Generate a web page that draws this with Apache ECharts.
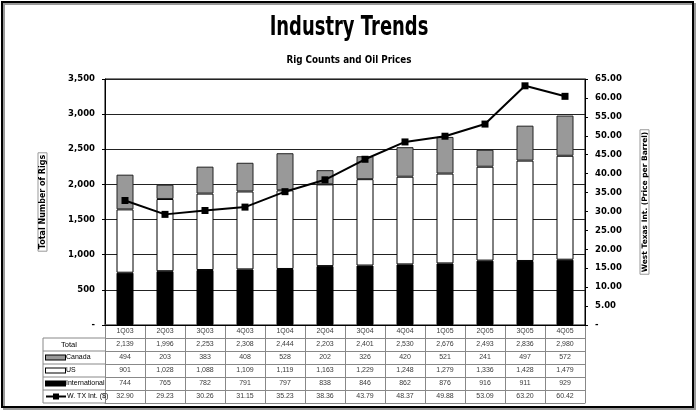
<!DOCTYPE html>
<html>
<head>
<meta charset="utf-8">
<script src="https://cdn.jsdelivr.net/npm/echarts@6/dist/echarts.min.js"></script>
<style>
html,body{margin:0;padding:0;background:#fff;}
#chart{width:697px;height:411px;}
</style>
</head>
<body>
<div id="chart"></div>
<script>
var categories = ['1Q03','2Q03','3Q03','4Q03','1Q04','2Q04','3Q04','4Q04','1Q05','2Q05','3Q05','4Q05'];
var totalRigs = [2139,1996,2253,2308,2444,2203,2401,2530,2676,2493,2836,2980];
var canada = [494,203,383,408,528,202,326,420,521,241,497,572];
var us = [901,1028,1088,1109,1119,1163,1229,1248,1279,1336,1428,1479];
var international = [744,765,782,791,797,838,846,862,876,916,911,929];
var wtiPrice = [32.90,29.23,30.26,31.15,35.23,38.36,43.79,48.37,49.88,53.09,63.20,60.42];
var rowNames = ['', 'Total', 'Canada', 'US', 'International', 'W. TX Int. ($)'];

function fmtInt(v){ return v.toString().replace(/\B(?=(\d{3})+(?!\d))/g, ','); }

var plotL = 105, plotR = 585, plotT = 79, plotB = 325, tableB = 403;
var W = 697, H = 411;
var rowH = (tableB - plotB) / 6;

var cells = [];
categories.forEach(function(c, i){
  cells.push([i, 0, c]);
  cells.push([i, 1, fmtInt(totalRigs[i])]);
  cells.push([i, 2, fmtInt(canada[i])]);
  cells.push([i, 3, fmtInt(us[i])]);
  cells.push([i, 4, fmtInt(international[i])]);
  cells.push([i, 5, wtiPrice[i].toFixed(2)]);
});

var chart = echarts.init(document.getElementById('chart'), null, {renderer:'canvas'});
var axisFont = '"DejaVu Sans", Verdana, sans-serif';
var tableFont = '"Liberation Sans", Arial, sans-serif';

var rowLines = [];
for (var r = 1; r <= 6; r++) {
  rowLines.push({type: 'line', shape: {x1: 43, y1: plotB + rowH * r, x2: plotL, y2: plotB + rowH * r}, style: {stroke: '#888', lineWidth: 1}});
}

var option = {
  backgroundColor: '#fff',
  animation: false,
  grid: [
    {left: plotL, right: W - plotR, top: plotT, height: plotB - plotT, show: true, borderColor: '#000', borderWidth: 1, backgroundColor: '#fff'},
    {left: plotL, right: W - plotR, top: plotB, height: tableB - plotB, show: false}
  ],
  xAxis: [
    {type: 'category', data: categories, gridIndex: 0, axisLine: {lineStyle: {color: '#000'}}, axisTick: {show: false}, axisLabel: {show: false}},
    {type: 'category', data: categories, gridIndex: 1, axisLine: {show: true, lineStyle: {color: '#888'}}, axisTick: {show: false}, axisLabel: {show: false},
     splitLine: {show: true, lineStyle: {color: '#888', width: 1}}}
  ],
  yAxis: [
    {type: 'value', gridIndex: 0, min: 0, max: 3500, interval: 500, position: 'left',
     name: 'Total Number of Rigs', nameLocation: 'middle', nameGap: 58, nameRotate: 90,
     nameTextStyle: {fontFamily: axisFont, fontWeight: 'bold', fontSize: 8, color: '#000', borderColor: '#999', borderWidth: 1, padding: [1, 2, 0, 2]},
     axisLine: {show: true, lineStyle: {color: '#000'}}, axisTick: {show: true, length: 3, lineStyle: {color: '#000'}},
     axisLabel: {margin: 10, fontFamily: axisFont, fontWeight: 'bold', fontSize: 8.5, color: '#000', formatter: function(v){ return v === 0 ? '-' : fmtInt(v); }},
     splitLine: {show: true, lineStyle: {color: '#222', width: 1}}},
    {type: 'value', gridIndex: 0, min: 0, max: 65, interval: 5, position: 'right',
     name: 'West Texas Int. (Price per Barrel)', nameLocation: 'middle', nameGap: 55, nameRotate: 90,
     nameTextStyle: {fontFamily: axisFont, fontWeight: 'bold', fontSize: 7.5, color: '#000', borderColor: '#999', borderWidth: 1, padding: [1, 2, 0, 2]},
     axisLine: {show: true, lineStyle: {color: '#000'}}, axisTick: {show: true, length: 3, lineStyle: {color: '#000'}},
     axisLabel: {margin: 10, fontFamily: axisFont, fontWeight: 'bold', fontSize: 8.5, color: '#000', formatter: function(v){ return v === 0 ? '-' : v.toFixed(2); }},
     splitLine: {show: false}},
    {type: 'category', gridIndex: 1, data: rowNames, inverse: true,
     axisLine: {show: true, lineStyle: {color: '#888'}}, axisTick: {show: false},
     splitLine: {show: true, lineStyle: {color: '#888', width: 1}},
     axisLabel: {margin: plotL - 46, align: 'left', fontFamily: tableFont, fontSize: 7, color: '#000',
       formatter: function(v){
         if (v === 'Total') return '{t|Total}';
         if (v === 'Canada') return '{ca|}{tx|Canada}';
         if (v === 'US') return '{us|}{tx|US}';
         if (v === 'International') return '{in|}{tx|International}';
         if (v === 'W. TX Int. ($)') return '{ln|}{sq|}{ln|}{tx|W. TX Int. ($)}';
         return '';
       },
       rich: {
         t: {fontFamily: tableFont, fontSize: 7.5, color: '#000', padding: [0,0,0,15]},
         tx: {fontFamily: tableFont, fontSize: 7, color: '#000', padding: [0,0,0,1], verticalAlign: 'middle'},
         ca: {width: 19, height: 4, backgroundColor: '#999', borderColor: '#000', borderWidth: 1, verticalAlign: 'middle'},
         us: {width: 19, height: 4, backgroundColor: '#fff', borderColor: '#000', borderWidth: 1, verticalAlign: 'middle'},
         in: {width: 19, height: 4, backgroundColor: '#000', borderColor: '#000', borderWidth: 1, verticalAlign: 'middle'},
         ln: {width: 7, height: 2, backgroundColor: '#000', verticalAlign: 'middle'},
         sq: {width: 6, height: 6, backgroundColor: '#000', verticalAlign: 'middle'}
       }}}
  ],
  series: [
    {name: 'International', type: 'bar', stack: 'rigs', xAxisIndex: 0, yAxisIndex: 0, data: international, barWidth: 17,
     itemStyle: {color: '#000', borderColor: '#000', borderWidth: 1}},
    {name: 'US', type: 'bar', stack: 'rigs', xAxisIndex: 0, yAxisIndex: 0, data: us, barWidth: 17,
     itemStyle: {color: '#fff', borderColor: '#000', borderWidth: 1}},
    {name: 'Canada', type: 'bar', stack: 'rigs', xAxisIndex: 0, yAxisIndex: 0, data: canada, barWidth: 17,
     itemStyle: {color: '#999', borderColor: '#222', borderWidth: 1}},
    {name: 'W. TX Int. ($)', type: 'line', xAxisIndex: 0, yAxisIndex: 1, data: wtiPrice,
     symbol: 'rect', symbolSize: 7, lineStyle: {color: '#000', width: 2}, itemStyle: {color: '#000'}, z: 5},
    {name: 'table', type: 'scatter', xAxisIndex: 1, yAxisIndex: 2, data: cells, symbolSize: 0.1,
     itemStyle: {color: 'transparent'}, silent: true,
     label: {show: true, position: 'inside', fontFamily: tableFont, fontSize: 7, color: '#000',
       formatter: function(p){ return p.data[2]; }}}
  ],
  graphic: [
    {type: 'rect', shape: {x: 4, y: 4, width: 691, height: 405}, style: {fill: 'none', stroke: '#999', lineWidth: 2}, z: 0},
    {type: 'rect', shape: {x: 2, y: 2, width: 691, height: 405}, style: {fill: 'none', stroke: '#000', lineWidth: 2}, z: 1},
    {type: 'text', x: 349, y: 28, scaleX: 0.69, z: 10,
     style: {text: 'Industry Trends', font: '900 26px "DejaVu Sans", sans-serif', fill: '#000', textAlign: 'center', textVerticalAlign: 'middle'}},
    {type: 'text', x: 349, y: 60, scaleX: 0.8, z: 10,
     style: {text: 'Rig Counts and Oil Prices', font: 'bold 11px "DejaVu Sans", sans-serif', fill: '#000', textAlign: 'center', textVerticalAlign: 'middle'}},
    {type: 'line', shape: {x1: 43, y1: plotB + rowH, x2: 43, y2: tableB}, style: {stroke: '#888', lineWidth: 1}}
  ].concat(rowLines)
};
chart.setOption(option);
</script>
</body>
</html>
